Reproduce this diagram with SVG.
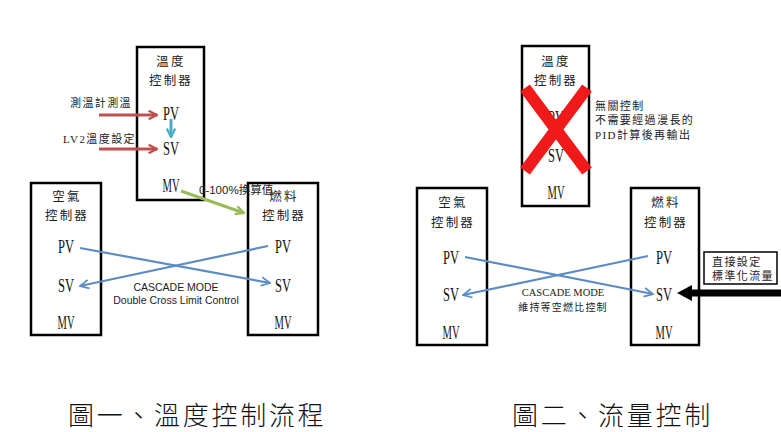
<svg xmlns="http://www.w3.org/2000/svg" width="781" height="432" viewBox="0 0 781 432">
<style>
.box{fill:#fff;stroke:#000;stroke-width:2.5}
.cj{font-family:"Noto Sans CJK TC","Noto Sans CJK SC",sans-serif;font-size:12.5px;letter-spacing:2.2px;text-anchor:middle;fill:#222}
.pv{font-family:"Liberation Serif",serif;font-size:18px;text-anchor:middle;fill:#111}
.sm{font-family:"Liberation Serif","Noto Sans CJK TC",serif;font-size:11px;letter-spacing:1.4px;fill:#222}
.cap{font-family:"Noto Sans CJK TC","Noto Sans CJK SC",sans-serif;font-size:26px;letter-spacing:2.7px;fill:#111;font-weight:300}
.blue{stroke:#5b8cc4;stroke-width:2.2;fill:none}
.red{stroke:#c0504d;stroke-width:3;fill:none}
</style>
<defs>
<marker id="ab" viewBox="0 0 10 10" refX="9" refY="5" markerWidth="5" markerHeight="5" orient="auto" markerUnits="strokeWidth"><path d="M1,1 L9,5 L1,9" fill="none" stroke="#5b8cc4" stroke-width="1.6"/></marker>
<marker id="ar" viewBox="0 0 10 10" refX="9" refY="5" markerWidth="3.5" markerHeight="3.5" orient="auto" markerUnits="strokeWidth"><path d="M1,1 L9,5 L1,9" fill="none" stroke="#c0504d" stroke-width="2.2"/></marker>
<marker id="ag" viewBox="0 0 10 10" refX="9" refY="5" markerWidth="3.5" markerHeight="3.5" orient="auto" markerUnits="strokeWidth"><path d="M1,1 L9,5 L1,9" fill="none" stroke="#9bbb59" stroke-width="2.2"/></marker>
<marker id="at" viewBox="0 0 10 10" refX="9" refY="5" markerWidth="3.5" markerHeight="3.5" orient="auto" markerUnits="strokeWidth"><path d="M1,1 L9,5 L1,9" fill="none" stroke="#4bacc6" stroke-width="2.2"/></marker>
</defs>
<rect width="781" height="432" fill="#fff"/>

<!-- Figure 1 -->
<g id="temp1">
<rect class="box" x="137" y="47" width="67" height="153"/>
<text class="cj" x="171" y="66">溫度</text>
<text class="cj" x="171" y="85">控制器</text>
<text class="pv" x="171" y="120" textLength="16" lengthAdjust="spacingAndGlyphs">PV</text>
<text class="pv" x="171" y="155" textLength="16" lengthAdjust="spacingAndGlyphs">SV</text>
<text class="pv" x="171" y="192" textLength="17" lengthAdjust="spacingAndGlyphs">MV</text>
</g>
<g id="air1">
<rect class="box" x="31" y="183" width="70" height="152"/>
<text class="cj" x="67" y="201">空氣</text>
<text class="cj" x="67" y="220">控制器</text>
<text class="pv" x="66" y="253" textLength="16" lengthAdjust="spacingAndGlyphs">PV</text>
<text class="pv" x="66" y="292" textLength="16" lengthAdjust="spacingAndGlyphs">SV</text>
<text class="pv" x="66" y="329" textLength="17" lengthAdjust="spacingAndGlyphs">MV</text>
</g>
<g id="fuel1">
<rect class="box" x="248" y="183" width="70" height="152"/>
<text class="cj" x="284" y="201">燃料</text>
<text class="cj" x="284" y="220">控制器</text>
<text class="pv" x="283" y="253" textLength="16" lengthAdjust="spacingAndGlyphs">PV</text>
<text class="pv" x="283" y="292" textLength="16" lengthAdjust="spacingAndGlyphs">SV</text>
<text class="pv" x="283" y="329" textLength="17" lengthAdjust="spacingAndGlyphs">MV</text>
</g>
<g id="connectors1">
<line class="red" x1="99" y1="115" x2="157" y2="115" marker-end="url(#ar)"/>
<line class="red" x1="99" y1="149" x2="157" y2="149" marker-end="url(#ar)"/>
<line x1="171" y1="119" x2="171" y2="137" stroke="#4bacc6" stroke-width="3" marker-end="url(#at)"/>
<line x1="181" y1="191" x2="244" y2="213" stroke="#9bbb59" stroke-width="3" marker-end="url(#ag)"/>
<line class="blue" x1="80" y1="248" x2="270" y2="283" marker-end="url(#ab)"/>
<line class="blue" x1="268" y1="246" x2="80" y2="286" marker-end="url(#ab)"/>
</g>
<text class="sm" x="70" y="107">測溫計測溫</text>
<text class="sm" x="63" y="143">LV2溫度設定</text>
<text x="199" y="194" font-family="Liberation Sans,'Noto Sans CJK TC',sans-serif" font-size="11.5" fill="#222">0-100%換算值</text>
<text x="176" y="291" font-family="Liberation Sans,sans-serif" font-size="10.5" text-anchor="middle" fill="#222">CASCADE MODE</text>
<text x="176" y="304" font-family="Liberation Sans,sans-serif" font-size="10.5" text-anchor="middle" fill="#222">Double Cross Limit Control</text>

<!-- Figure 2 -->
<g id="temp2">
<rect class="box" x="522" y="46" width="67" height="160"/>
<text class="cj" x="556" y="66">溫度</text>
<text class="cj" x="556" y="85">控制器</text>
<text class="pv" x="556" y="124" textLength="16" lengthAdjust="spacingAndGlyphs">PV</text>
<text class="pv" x="556" y="162" textLength="16" lengthAdjust="spacingAndGlyphs">SV</text>
<text class="pv" x="556" y="199" textLength="17" lengthAdjust="spacingAndGlyphs">MV</text>
<g stroke="#f01a1a" stroke-width="12">
<line x1="525" y1="88" x2="587" y2="171"/>
<line x1="587" y1="88" x2="525" y2="171"/>
</g>
</g>
<g id="note2">
<text class="sm" x="595" y="110">無關控制</text>
<text class="sm" x="595" y="124">不需要經過漫長的</text>
<text class="sm" x="595" y="139">PID計算後再輸出</text>
</g>
<g id="air2">
<rect class="box" x="417" y="188" width="70" height="157"/>
<text class="cj" x="453" y="207">空氣</text>
<text class="cj" x="453" y="227">控制器</text>
<text class="pv" x="451" y="264" textLength="16" lengthAdjust="spacingAndGlyphs">PV</text>
<text class="pv" x="451" y="301" textLength="16" lengthAdjust="spacingAndGlyphs">SV</text>
<text class="pv" x="451" y="339" textLength="17" lengthAdjust="spacingAndGlyphs">MV</text>
</g>
<g id="fuel2">
<rect class="box" x="631" y="188" width="68" height="157"/>
<text class="cj" x="666" y="207">燃料</text>
<text class="cj" x="666" y="227">控制器</text>
<text class="pv" x="664" y="264" textLength="16" lengthAdjust="spacingAndGlyphs">PV</text>
<text class="pv" x="664" y="301" textLength="16" lengthAdjust="spacingAndGlyphs">SV</text>
<text class="pv" x="664" y="339" textLength="17" lengthAdjust="spacingAndGlyphs">MV</text>
</g>
<g id="input2">
<rect x="704" y="252" width="73" height="32" fill="#fff" stroke="#000" stroke-width="1.5"/>
<text class="sm" x="712" y="266">直接設定</text>
<text class="sm" x="712" y="280">標準化流量</text>
</g>
<g id="connectors2">
<line class="blue" x1="465" y1="257" x2="653" y2="294" marker-end="url(#ab)"/>
<line class="blue" x1="648" y1="256" x2="463" y2="295" marker-end="url(#ab)"/>
<polygon points="781,289.5 692,289.5 692,285 677,293 692,301 692,296.5 781,296.5" fill="#000"/>
</g>
<text x="563" y="296" font-family="Liberation Serif,serif" font-size="10.5" text-anchor="middle" fill="#222">CASCADE MODE</text>
<text x="563" y="311" font-family="'Noto Sans CJK TC',sans-serif" font-size="10" letter-spacing="1.2" text-anchor="middle" fill="#222">維持等空燃比控制</text>

<!-- Captions -->
<text class="cap" x="68" y="425">圖一、溫度控制流程</text>
<text class="cap" x="512" y="425">圖二、流量控制</text>
</svg>
